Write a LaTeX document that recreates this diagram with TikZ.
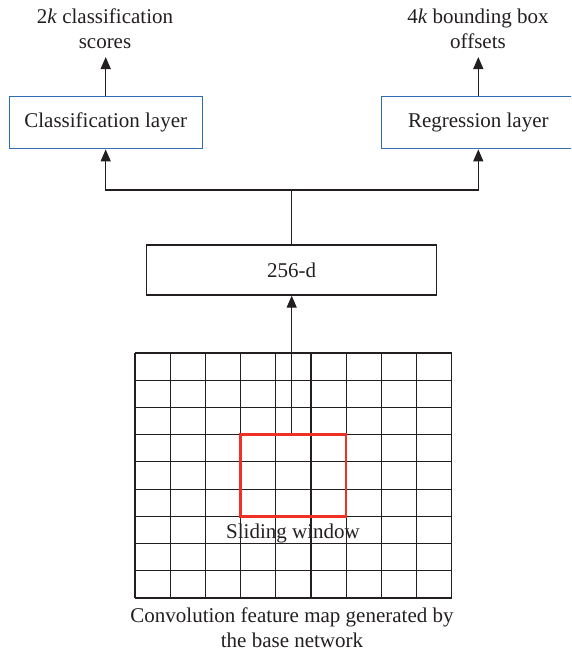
\documentclass[tikz,border=0pt]{standalone}
\usepackage{fontspec}
\setmainfont{Liberation Serif}
\usetikzlibrary{arrows.meta}
\definecolor{ink}{HTML}{231F20}
\definecolor{boxblue}{HTML}{2F6EB0}
\definecolor{winred}{HTML}{EE3124}
\begin{document}
\begin{tikzpicture}[x=1pt,y=-1pt,
  txt/.style={font=\fontsize{21}{25}\selectfont, text=ink, inner sep=0pt},
  layerbox/.style={txt, draw=boxblue, line width=1.2pt, minimum width=193pt, minimum height=52.5pt},
  hidbox/.style={txt, draw=ink, line width=1.3pt, minimum width=290pt, minimum height=50pt},
  link/.style={draw=ink, line width=1.3pt},
  arr/.style={link, -{Triangle[width=10pt,length=12pt]}},
  gridline/.style={draw=ink, line width=1.1pt},
  window/.style={draw=winred, line width=2.4pt, minimum width=105.6pt, minimum height=81.7pt, inner sep=0pt}
]
\useasboundingbox (0,0) rectangle (571,656);
\clip (0,0) rectangle (571,656);

% feature map grid
\foreach \i in {0,...,9} {
  \draw[gridline] (135+\i*35.2, 353) -- (135+\i*35.2, 598);
  \draw[gridline] (135, 353+\i*27.222) -- (451.8, 353+\i*27.222);
}
\node[window] (win) at (293.4, 475.5) {};
\node[txt, anchor=base] (slide) at (293, 538) {Sliding window};
\node[txt, align=center] (fmap) at (292, 627.5) {Convolution feature map generated by\\the base network};

% boxes
\node[hidbox] (hid) at (291.7, 270) {256-d};
\node[layerbox] (cls) at (105.7, 122.5) {Classification layer};
\node[layerbox] (reg) at (478.3, 122.5) {Regression layer};

% output labels
\node[txt, align=center] (clsout) at (105, 28.5) {2\textit{k} classification\\scores};
\node[txt, align=center] (regout) at (478, 28.5) {4\textit{k} bounding box\\offsets};
\coordinate (clstip) at (105.7, 57);
\coordinate (regtip) at (478.3, 57);

% connectors
\coordinate (junc) at (291.7, 190);
\draw[arr] (win.north -| hid.south) -- (hid.south);
\draw[link] (hid.north) -- (junc);
\draw[arr] (junc) -| (cls.south);
\draw[arr] (junc) -| (reg.south);
\draw[arr] (cls.north) -- (clstip);
\draw[arr] (reg.north) -- (regtip);
\end{tikzpicture}
\end{document}
